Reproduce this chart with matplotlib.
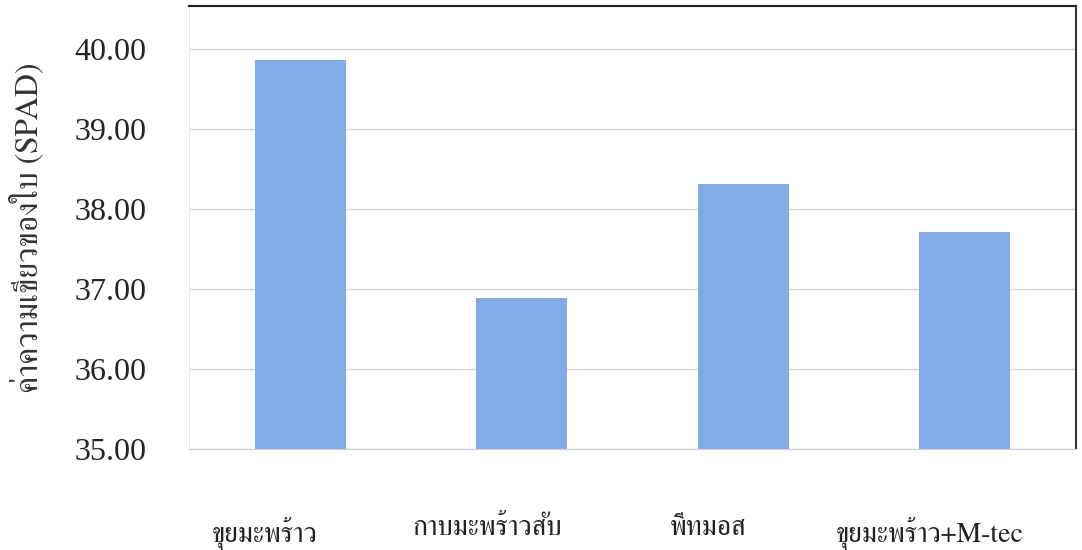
import matplotlib
matplotlib.use("Agg")
import matplotlib.pyplot as plt
import matplotlib.transforms as mtransforms
from matplotlib import font_manager
from fontTools.ttLib import TTFont
import numpy as np

# ข้อมูล
treatments = ["ขุยมะพร้าว", "กาบมะพร้าวสับ", "พีทมอส", "ขุยมะพร้าว+M-tec"]
spad = [39.87, 36.89, 38.32, 37.72]
yticks = [35, 36, 37, 38, 39, 40]


# หาฟอนต์ที่มีตัวอักษรไทย
def thai_font():
    prefer = ["Serif", "Sans"]
    found = []
    for f in font_manager.fontManager.ttflist:
        try:
            tt = TTFont(f.fname, fontNumber=0, lazy=True)
            if 0x0E01 in tt.getBestCmap():
                found.append(f.name)
        except Exception:
            pass
    for p in prefer:
        for name in found:
            if p in name:
                return name
    return found[0] if found else "DejaVu Sans"


thai = thai_font()
serif = "Liberation Serif"

fig, ax = plt.subplots(figsize=(10.82, 5.5), dpi=100)
fig.subplots_adjust(left=0.175, right=0.994, top=0.99, bottom=0.183)

x = np.arange(len(treatments))
ax.bar(x, [v - 35 for v in spad], bottom=35, width=0.41, color="#82abe5", zorder=2)

ax.set_ylim(35, 40.55)
ax.set_xlim(-0.5, 3.5)
ax.set_yticks(yticks)
ax.set_yticklabels(["%.2f" % t for t in yticks], family=serif, fontsize=23, color="#242424")
ax.set_xticks(x)
ax.set_xticklabels(treatments, family=[thai, serif], fontsize=20, color="#222222")
ax.tick_params(axis="both", length=0)
ax.tick_params(axis="y", pad=31)
ax.tick_params(axis="x", pad=48)

# ป้ายแกน x เยื้องไปทางซ้ายเล็กน้อยเหมือนต้นฉบับ
shift = mtransforms.ScaledTranslation(-35 / 100, 0, fig.dpi_scale_trans)
for lab in ax.get_xticklabels():
    lab.set_transform(lab.get_transform() + shift)

ax.grid(axis="y", color="#d8d8e0", linewidth=1, zorder=0)
ax.spines["left"].set_color("#e2e2e8")
ax.spines["bottom"].set_color("#d0d0d8")
ax.spines["top"].set_color("#222222")
ax.spines["top"].set_linewidth(1.5)
ax.spines["right"].set_color("#333333")
ax.spines["right"].set_linewidth(1.5)

ax.set_ylabel("ค่าความเขียวของใบ (SPAD)", family=[thai, serif], fontsize=23, color="#333333", labelpad=22)

fig.savefig("out.png", dpi=100)
